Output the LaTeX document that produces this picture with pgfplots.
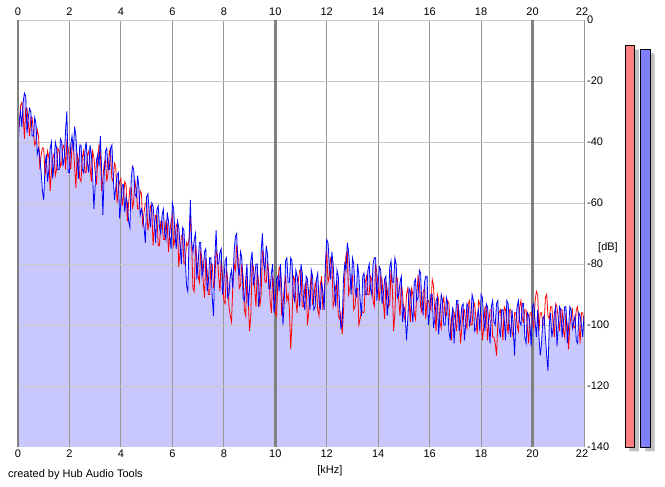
\documentclass[border=0pt]{standalone}
\usepackage{fontspec}
\setmainfont{Liberation Sans}
\usepackage{pgfplots}
\pgfplotsset{compat=1.18}
\usepgfplotslibrary{fillbetween}
\usepackage{pgfplotstable}
\definecolor{lav}{RGB}{200,200,255}
\definecolor{gridv}{RGB}{150,150,150}
\definecolor{gridd}{RGB}{128,128,128}
\definecolor{gridh}{RGB}{200,200,200}
\definecolor{meterred}{RGB}{255,128,128}
\definecolor{meterblue}{RGB}{128,128,255}
\definecolor{shadowc}{RGB}{192,192,192}

\pgfplotstableread{
f R B
0.00 -30 -43
0.05 -35 -33
0.10 -28 -30
0.15 -27 -35
0.20 -31 -27
0.25 -39 -24
0.30 -29 -25
0.35 -29 -37
0.40 -34 -32
0.45 -38 -29
0.50 -32 -30
0.55 -32 -38
0.60 -37 -38
0.65 -41 -32
0.70 -40 -34
0.75 -36 -44
0.80 -38 -42
0.85 -49 -45
0.90 -44 -50
0.95 -42 -56
1.00 -42 -59
1.05 -51 -48
1.10 -48 -44
1.15 -43 -53
1.20 -45 -49
1.25 -56 -42
1.30 -50 -40
1.35 -45 -52
1.40 -44 -47
1.45 -51 -40
1.50 -49 -42
1.55 -42 -49
1.60 -43 -49
1.65 -48 -39
1.70 -47 -40
1.75 -41 -48
1.80 -42 -45
1.85 -49 -36
1.90 -40 -30
1.95 -42 -50
2.00 -46 -50
2.05 -49 -41
2.10 -41 -38
2.15 -41 -43
2.20 -48 -35
2.25 -55 -38
2.30 -44 -46
2.35 -46 -52
2.40 -52 -41
2.45 -53 -41
2.50 -45 -49
2.55 -43 -50
2.60 -50 -43
2.65 -50 -40
2.70 -44 -47
2.75 -43 -50
2.80 -48 -41
2.85 -53 -44
2.90 -43 -50
2.95 -45 -62
3.00 -50 -54
3.05 -54 -46
3.10 -46 -44
3.15 -41 -48
3.20 -42 -38
3.25 -56 -49
3.30 -52 -64
3.35 -47 -50
3.40 -46 -43
3.45 -53 -42
3.50 -50 -49
3.55 -43 -49
3.60 -45 -42
3.65 -52 -41
3.70 -53 -51
3.75 -47 -59
3.80 -48 -55
3.85 -60 -51
3.90 -56 -50
3.95 -53 -65
4.00 -52 -60
4.05 -61 -54
4.10 -58 -54
4.15 -53 -63
4.20 -54 -58
4.25 -66 -60
4.30 -60 -66
4.35 -55 -68
4.40 -55 -52
4.45 -62 -48
4.50 -59 -49
4.55 -53 -57
4.60 -56 -58
4.65 -62 -51
4.70 -62 -55
4.75 -56 -64
4.80 -57 -62
4.85 -68 -64
4.90 -63 -68
4.95 -60 -73
5.00 -60 -58
5.05 -69 -57
5.10 -66 -63
5.15 -61 -68
5.20 -62 -60
5.25 -74 -61
5.30 -68 -66
5.35 -64 -73
5.40 -64 -62
5.45 -74 -61
5.50 -74 -68
5.55 -66 -70
5.60 -66 -64
5.65 -72 -62
5.70 -72 -70
5.75 -66 -72
5.80 -67 -63
5.85 -76 -66
5.90 -70 -71
5.95 -66 -75
6.00 -64 -60
6.05 -74 -62
6.10 -72 -70
6.15 -67 -75
6.20 -68 -66
6.25 -81 -68
6.30 -76 -74
6.35 -71 -80
6.40 -70 -68
6.45 -80 -69
6.50 -80 -78
6.55 -73 -87
6.60 -74 -89
6.65 -72 -72
6.70 -64 -59
6.75 -73 -73
6.80 -88 -76
6.85 -89 -72
6.90 -74 -70
6.95 -78 -85
7.00 -84 -80
7.05 -86 -73
7.10 -76 -73
7.15 -78 -84
7.20 -86 -82
7.25 -91 -76
7.30 -78 -75
7.35 -82 -89
7.40 -90 -86
7.45 -90 -78
7.50 -80 -78
7.55 -80 -91
7.60 -88 -97
7.65 -85 -78
7.70 -76 -69
7.75 -77 -80
7.80 -84 -80
7.85 -89 -76
7.90 -78 -75
7.95 -84 -90
8.00 -92 -86
8.05 -93 -79
8.10 -82 -78
8.15 -85 -91
8.20 -94 -90
8.25 -97 -84
8.30 -99 -82
8.35 -87 -88
8.40 -80 -76
8.45 -82 -71
8.50 -74 -70
8.55 -77 -81
8.60 -88 -84
8.65 -87 -76
8.70 -80 -78
8.75 -84 -91
8.80 -95 -92
8.85 -97 -85
8.90 -84 -80
8.95 -92 -94
9.00 -102 -88
9.05 -97 -79
9.10 -80 -76
9.15 -81 -87
9.20 -88 -84
9.25 -94 -80
9.30 -82 -80
9.35 -86 -94
9.40 -94 -90
9.45 -90 -76
9.50 -76 -70
9.55 -77 -80
9.60 -86 -82
9.65 -86 -74
9.70 -80 -77
9.75 -83 -88
9.80 -92 -88
9.85 -96 -83
9.90 -84 -80
9.95 -89 -96
10.00 -96 -92
10.05 -97 -85
10.10 -86 -84
10.15 -81 -89
10.20 -82 -80
10.25 -97 -88
10.30 -94 -100
10.35 -87 -92
10.40 -84 -79
10.45 -92 -78
10.50 -90 -86
10.55 -95 -86
10.60 -108 -78
10.65 -99 -79
10.70 -84 -90
10.75 -85 -92
10.80 -92 -82
10.85 -96 -84
10.90 -85 -88
10.95 -82 -94
11.00 -82 -80
11.05 -94 -83
11.10 -94 -92
11.15 -87 -95
11.20 -86 -84
11.25 -100 -85
11.30 -96 -90
11.35 -88 -95
11.40 -84 -82
11.45 -93 -84
11.50 -92 -95
11.55 -86 -94
11.60 -88 -85
11.65 -95 -83
11.70 -97 -92
11.75 -87 -95
11.80 -84 -86
11.85 -95 -89
11.90 -90 -95
11.95 -82 -80
12.00 -76 -72
12.05 -86 -73
12.10 -84 -80
12.15 -78 -85
12.20 -78 -76
12.25 -94 -80
12.30 -92 -88
12.35 -87 -94
12.40 -86 -82
12.45 -97 -84
12.50 -98 -94
12.55 -96 -101
12.60 -103 -100
12.65 -96 -85
12.70 -84 -80
12.75 -77 -82
12.80 -76 -73
12.85 -90 -76
12.90 -88 -82
12.95 -85 -90
13.00 -84 -78
13.05 -95 -80
13.10 -94 -88
13.15 -88 -91
13.20 -88 -80
13.25 -100 -84
13.30 -98 -92
13.35 -95 -97
13.40 -96 -84
13.45 -96 -83
13.50 -86 -90
13.55 -84 -90
13.60 -90 -82
13.65 -90 -80
13.70 -84 -88
13.75 -85 -90
13.80 -92 -80
13.85 -94 -78
13.90 -80 -78
13.95 -83 -92
14.00 -88 -86
14.05 -92 -81
14.10 -84 -82
14.15 -85 -93
14.20 -92 -90
14.25 -98 -85
14.30 -86 -84
14.35 -88 -97
14.40 -94 -92
14.45 -93 -81
14.50 -82 -79
14.55 -88 -86
14.60 -102 -86
14.65 -96 -78
14.70 -84 -80
14.75 -85 -91
14.80 -92 -90
14.85 -97 -86
14.90 -86 -84
14.95 -90 -99
15.00 -96 -94
15.05 -99 -96
15.10 -90 -105
15.15 -88 -98
15.20 -92 -88
15.25 -99 -89
15.30 -88 -95
15.35 -90 -99
15.40 -96 -86
15.45 -98 -85
15.50 -90 -92
15.55 -84 -91
15.60 -86 -82
15.65 -94 -83
15.70 -96 -94
15.75 -89 -96
15.80 -88 -86
15.85 -98 -84
15.90 -92 -84
15.95 -92 -100
16.00 -94 -96
16.05 -95 -90
16.10 -85 -90
16.15 -87 -101
16.20 -96 -98
16.25 -102 -92
16.30 -90 -91
16.35 -92 -103
16.40 -99 -97
16.45 -101 -90
16.50 -93 -92
16.55 -91 -100
16.60 -97 -100
16.65 -97 -91
16.70 -92 -93
16.75 -93 -102
16.80 -100 -105
16.85 -105 -98
16.90 -95 -94
16.95 -96 -106
17.00 -99 -98
17.05 -102 -92
17.10 -93 -92
17.15 -96 -102
17.20 -106 -99
17.25 -101 -94
17.30 -95 -93
17.35 -95 -105
17.40 -99 -100
17.45 -101 -93
17.50 -93 -94
17.55 -92 -100
17.60 -100 -98
17.65 -100 -90
17.70 -94 -92
17.75 -93 -102
17.80 -98 -101
17.85 -103 -97
17.90 -92 -95
17.95 -93 -102
18.00 -97 -90
18.05 -105 -91
18.10 -101 -98
18.15 -94 -102
18.20 -94 -93
18.25 -105 -94
18.30 -99 -100
18.35 -95 -106
18.40 -95 -94
18.45 -104 -92
18.50 -104 -99
18.55 -106 -100
18.60 -110 -93
18.65 -100 -92
18.70 -96 -101
18.75 -95 -104
18.80 -100 -95
18.85 -105 -95
18.90 -94 -98
18.95 -95 -105
19.00 -99 -92
19.05 -103 -93
19.10 -95 -100
19.15 -95 -104
19.20 -102 -95
19.25 -104 -100
19.30 -96 -110
19.35 -96 -99
19.40 -100 -94
19.45 -102 -92
19.50 -94 -99
19.55 -92 -100
19.60 -98 -93
19.65 -99 -93
19.70 -95 -104
19.75 -95 -106
19.80 -101 -96
19.85 -106 -97
19.90 -96 -100
19.95 -96 -107
20.00 -99 -94
20.05 -101 -93
20.10 -92 -99
20.15 -89 -104
20.20 -90 -95
20.25 -102 -104
20.30 -96 -110
20.35 -96 -106
20.40 -100 -98
20.45 -100 -97
20.50 -91 -104
20.55 -90 -110
20.60 -97 -115
20.65 -98 -100
20.70 -94 -96
20.75 -94 -104
20.80 -100 -101
20.85 -104 -96
20.90 -93 -94
20.95 -94 -107
21.00 -98 -100
21.05 -102 -94
21.10 -95 -95
21.15 -95 -104
21.20 -102 -99
21.25 -104 -94
21.30 -96 -94
21.35 -100 -106
21.40 -108 -101
21.45 -100 -94
21.50 -97 -95
21.55 -95 -101
21.60 -101 -99
21.65 -101 -97
21.70 -95 -105
21.75 -94 -106
21.80 -100 -96
21.85 -106 -97
21.90 -96 -100
21.95 -96 -104
22.00 -99 -97
}\spec

\begin{document}
\begin{tikzpicture}
% main spectrum axis
\begin{axis}[
  set layers,
  clip=false,
  scale only axis, width=566pt, height=427pt,
  at={(18pt,40pt)}, anchor=south west,
  xmin=0, xmax=22, ymin=-140, ymax=0,
  axis line style={draw=none},
  major tick length=0pt,
  xtick={0,2,...,22},
  xticklabels={0,2,4,6,8,10,12,14,16,18,20,\makebox[0pt]{22\hspace{4pt}}},
  extra x ticks={10,20},
  extra x tick labels={},
  extra x tick style={grid=major, x grid style={draw=gridd, line width=2.5pt}},
  ytick={-120,-100,...,0},
  yticklabels={-120,-100,-80,-60,-40,-20,0},
  extra y ticks={-140},
  extra y tick labels={-140},
  extra y tick style={grid=none},
  yticklabel pos=right,
  grid=major,
  x grid style={draw=gridv, line width=0.9pt},
  y grid style={draw=gridh, line width=0.9pt},
  ticklabel style={font=\fontsize{11}{13}\selectfont},
  xticklabel style={anchor=north, inner sep=0pt, yshift=-3pt},
  yticklabel style={anchor=west, inner sep=0pt, xshift=3pt},
  xlabel={[kHz]}, ylabel={[dB]},
  every axis x label/.style={at={(rel axis cs:0.551,0)}, anchor=north, inner sep=0pt, yshift=-18pt, font=\fontsize{11}{13}\selectfont},
  every axis y label/.style={at={(rel axis cs:1,0.466)}, anchor=west, inner sep=0pt, xshift=14pt, font=\fontsize{11}{13}\selectfont},
]
\addplot[draw=none, name path=base, forget plot] coordinates {(0,-140) (22,-140)};
\addplot[red, line width=0.8pt] table[x=f, y=R] {\spec};
\addplot[blue, line width=0.8pt, name path=B] table[x=f, y=B] {\spec};
\addplot[fill=lav, draw=none] fill between[of=B and base, on layer=axis background];
% left and right borders
\addplot[draw=gridd, line width=2.8pt] coordinates {(0,-140) (0,0)};
\addplot[draw=gridv, line width=0.9pt] coordinates {(22,-140) (22,0)};
\end{axis}
% top tick labels
\begin{axis}[
  scale only axis, width=566pt, height=427pt,
  at={(18pt,40pt)}, anchor=south west,
  xmin=0, xmax=22, ymin=-140, ymax=0,
  axis line style={draw=none},
  major tick length=0pt,
  xtick={0,2,...,22},
  xticklabels={0,2,4,6,8,10,12,14,16,18,20,\makebox[0pt]{22\hspace{4pt}}},
  ytick=\empty,
  xticklabel pos=upper,
  ticklabel style={font=\fontsize{11}{13}\selectfont},
  xticklabel style={anchor=south, inner sep=0pt, yshift=4pt},
]
\addplot[draw=none] coordinates {(0,0) (22,0)};
\end{axis}
% meter shadows
\begin{axis}[
  scale only axis, width=40pt, height=427pt,
  at={(622.5pt,35.5pt)}, anchor=south west,
  xmin=0, xmax=40, ymin=0, ymax=140,
  hide axis, clip=false, ybar, bar width=9.3pt,
]
\addplot[fill=shadowc, draw=none, bar shift=0pt] coordinates {(11.6,131.8) (27.5,130.5)};
\end{axis}
% meters
\begin{axis}[
  scale only axis, width=40pt, height=427pt,
  at={(618pt,40pt)}, anchor=south west,
  xmin=0, xmax=40, ymin=0, ymax=140,
  hide axis, clip=false, ybar, bar width=9.3pt,
]
\addplot[fill=meterred, draw=black, line width=0.8pt, bar shift=0pt] coordinates {(11.6,131.8)};
\addplot[fill=meterblue, draw=black, line width=0.8pt, bar shift=0pt] coordinates {(27.5,130.5)};
\end{axis}
\node[anchor=west, inner sep=0pt, font=\fontsize{11}{13}\selectfont] at (8pt,12pt) {created by Hub Audio Tools};
\pgfresetboundingbox
\useasboundingbox (0,0) rectangle (665pt,487pt);
\end{tikzpicture}
\end{document}
